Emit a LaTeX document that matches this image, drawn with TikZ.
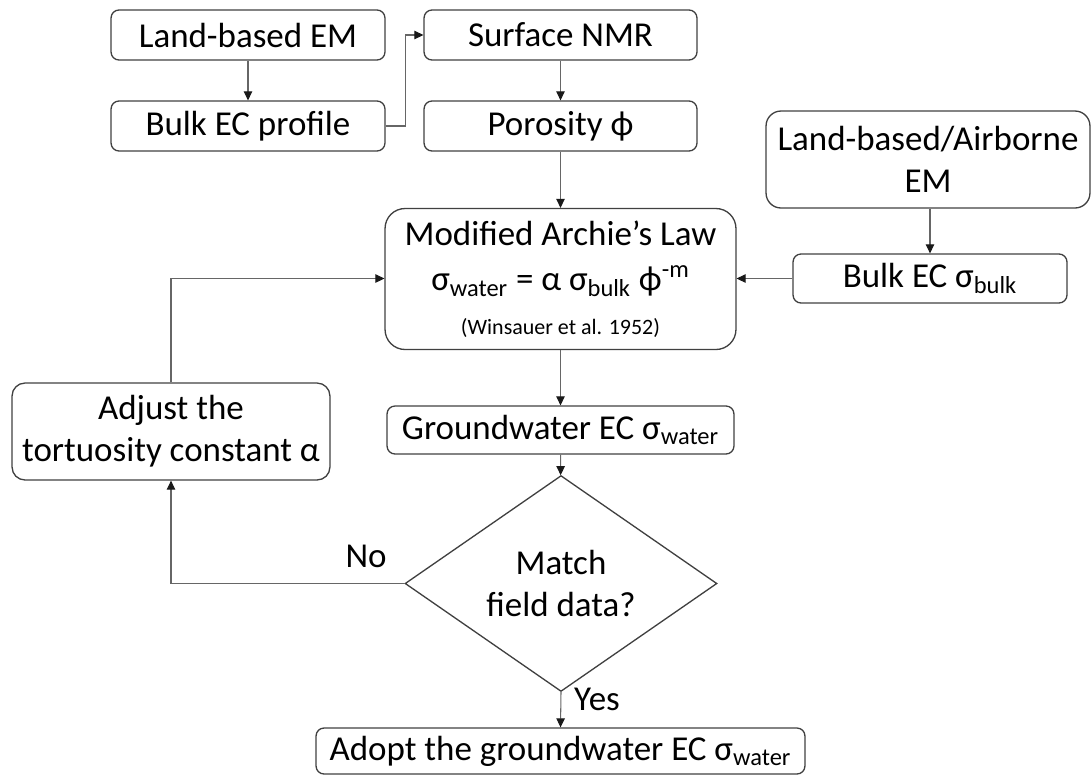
\documentclass[tikz,border=0pt]{standalone}
\usepackage{fontspec}
\setmainfont{Carlito}
\usetikzlibrary{shapes.geometric,arrows.meta}
\newcommand{\bigfont}{\fontsize{19.9}{24}\selectfont}
\newcommand{\citefont}{\fontsize{12.5}{15}\selectfont}
\tikzset{
  box/.style={draw=black!75, line width=0.75pt, rounded corners=0.16cm, align=center, inner sep=0pt, font=\bigfont},
  arr/.style={-{Triangle[length=0.18cm,width=0.17cm,color=black!90]}, draw=black!60, line width=0.6pt},
}

\begin{document}
\begin{tikzpicture}[x=0.02cm,y=-0.02cm]
    \useasboundingbox (0,0) rectangle (1092,775);
    \node[box,minimum width=5.48cm,minimum height=1cm] (landem) at (248,35) {Land-based EM};
    \node[box,minimum width=5.48cm,minimum height=1cm] (profile) at (248,126) {Bulk EC profile};
    \node[box,minimum width=5.46cm,minimum height=1cm] (nmr) at (560.5,35) {Surface NMR};
    \node[box,minimum width=5.46cm,minimum height=1cm] (poro) at (560.5,126) {Porosity ϕ};
    \node[box,minimum width=7.02cm,minimum height=2.82cm,rounded corners=0.4cm] (archie) at (560.5,279)
        {Modified Archie’s Law\\[2pt] σ\textsubscript{water} = α σ\textsubscript{bulk} ϕ\textsuperscript{-m}\\[1pt] {\citefont (Winsauer et al. 1952)}};
    \node[box,minimum width=6.48cm,minimum height=1.94cm,rounded corners=0.3cm] (airem) at (928,159.5) {Land-based/Airborne\\ EM};
    \node[box,minimum width=5.48cm,minimum height=0.98cm] (bulk) at (930,278.5) {Bulk EC σ\textsubscript{bulk}};
    \node[box,minimum width=6.36cm,minimum height=1.94cm,rounded corners=0.26cm] (adjust) at (171,431.5) {Adjust the\\ tortuosity constant α};
    \node[box,minimum width=6.94cm,minimum height=0.96cm] (gw) at (560.5,430) {Groundwater EC σ\textsubscript{water}};
    \node[draw=black!75,line width=0.75pt,diamond,inner sep=0pt,minimum width=6.24cm,minimum height=3.42cm,
        align=center,font=\bigfont] (match) at (561,583.5) {Match\\ field data?};
    \node[box,minimum width=9.78cm,minimum height=0.92cm] (adopt) at (560.5,751) {Adopt the groundwater EC σ\textsubscript{water}};

    \draw[arr] (landem) -- (profile);
    \draw[arr] (nmr) -- (poro);
    \draw[arr] (poro) -- (archie);
    \draw[arr] (profile.east) -- ++(20,0) |- (nmr.west);
    \draw[arr] (airem.south -| bulk.north) -- (bulk.north);
    \draw[arr] (bulk) -- (bulk -| archie.east);
    \draw[arr] (archie) -- (gw);
    \draw[arr] (gw) -- (match);
    \draw[arr] (adjust.north) |- (bulk -| archie.west);
    \draw[arr] (match.west) -| (adjust.south);
    \draw[arr] (match.south) -- (adopt.north);
    \node[font=\bigfont] (no) at (366,556) {No};
    \node[font=\bigfont] (yes) at (597,699) {Yes};
\end{tikzpicture}
\end{document}
